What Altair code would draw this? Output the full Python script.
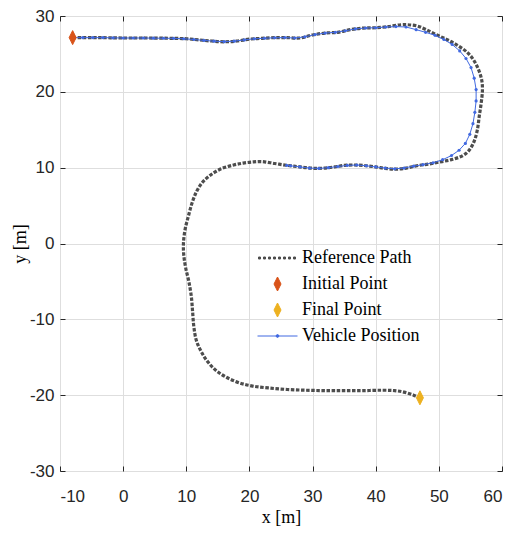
import altair as alt
import pandas as pd

# ---- data (metres) ----
ref_x = [-8.0, -4.0, 0.0, 4.0, 8.0, 10.0, 12.0, 14.0, 16.0, 18.0, 20.0, 22.0, 24.0, 26.0,
         28.0, 30.0, 32.0, 34.0, 36.0, 38.0, 40.0, 42.0, 44.0, 45.0, 46.5, 48.0, 49.7,
         51.5, 53.0, 54.5, 55.5, 56.3, 56.8, 56.9, 56.7, 56.4, 56.1, 55.6, 54.8, 53.8,
         52.2, 50.5, 48.5, 46.5, 44.5, 43.0, 41.5, 40.0, 38.0, 36.5, 35.0, 33.5, 32.0,
         30.5, 29.0, 27.5, 26.0, 24.0, 22.0, 20.5, 19.0, 17.5, 15.5, 13.8, 12.5, 11.6,
         10.9, 10.3, 9.8, 9.55, 9.6, 9.9, 10.4, 10.8, 11.0, 11.2, 11.6, 12.4, 13.4, 14.8,
         16.5, 18.5, 20.5, 23.0, 26.0, 29.0, 32.0, 35.0, 38.0, 41.0, 43.0, 44.5, 46.0, 47.0]
ref_y = [27.15, 27.15, 27.1, 27.1, 27.05, 27.0, 26.85, 26.7, 26.6, 26.7, 26.95, 27.05, 27.15,
         27.15, 27.1, 27.5, 27.75, 27.85, 28.2, 28.4, 28.45, 28.6, 28.85, 28.85, 28.7, 28.2,
         27.5, 26.8, 26.1, 25.2, 24.2, 22.9, 21.5, 20.2, 18.5, 16.8, 15.0, 13.5, 12.3, 11.6,
         11.1, 10.8, 10.5, 10.25, 9.9, 9.8, 9.9, 10.1, 10.3, 10.35, 10.3, 10.1, 9.95, 9.9,
         10.0, 10.15, 10.3, 10.55, 10.8, 10.75, 10.6, 10.35, 9.85, 9.0, 8.0, 6.8, 5.3, 3.5,
         1.8, 0.0, -1.5, -3.2, -5.0, -7.0, -9.0, -11.0, -12.8, -14.3, -15.6, -16.8, -17.7,
         -18.4, -18.8, -19.05, -19.25, -19.35, -19.4, -19.4, -19.4, -19.35, -19.4, -19.6,
         -20.0, -20.35]

veh_x = [-8.0, -6.4, -4.8, -3.2, -1.6, 0.0, 1.6, 3.2, 4.8, 6.4, 8.0, 9.6, 11.2, 12.8, 14.4,
         16.0, 17.6, 19.2, 20.8, 22.4, 24.0, 25.6, 27.2, 28.8, 30.4, 32.0, 33.6, 35.2, 36.8,
         38.4, 40.0, 41.6, 43.2, 44.8, 46.4, 47.9, 49.4, 50.8, 52.1, 53.3, 54.3, 55.1, 55.6,
         55.9, 55.9, 55.7, 55.4, 54.9, 54.2, 53.2, 52.0, 50.6, 49.1, 47.5, 46.0, 44.5, 43.0,
         41.5, 40.0, 38.5, 37.0, 35.5, 34.0, 32.5, 31.0, 29.5, 28.0, 26.5, 25.9]
veh_y = [27.15, 27.15, 27.15, 27.15, 27.12, 27.1, 27.1, 27.1, 27.08, 27.07, 27.05, 27.0,
         26.9, 26.78, 26.68, 26.62, 26.68, 26.85, 27.0, 27.07, 27.13, 27.15, 27.1, 27.25,
         27.55, 27.75, 27.85, 28.05, 28.3, 28.42, 28.45, 28.55, 28.6, 28.55, 28.2, 27.85,
         27.45, 26.9, 26.25, 25.4, 24.4, 23.2, 21.8, 20.3, 18.8, 17.3, 15.8, 14.4, 13.2,
         12.3, 11.6, 11.05, 10.65, 10.4, 10.2, 9.95, 9.85, 9.95, 10.1, 10.25, 10.35, 10.3,
         10.15, 10.0, 9.9, 9.95, 10.1, 10.25, 10.3]

marker_names = ["Initial Point", "Final Point"]
marker_x = [-8.0, 47.0]
marker_y = [27.15, -20.35]

series = ["Reference Path", "Initial Point", "Final Point", "Vehicle Position"]
series_colors = ["#4d4d4d", "#d95319", "#edb120", "#4169e1"]

x_ticks = [-10, 0, 10, 20, 30, 40, 50, 60]
y_ticks = [-30, -20, -10, 0, 10, 20, 30]

# ---- symbol paths (unit = 7 px at size 196) ----
R = 7.0


def u(v):
    return round(v / R, 4)


diamond = "M0,-1L0.5,0L0,1L-0.5,0Z"
dashed_sample = "".join(
    f"M{u(-19 + 5 * k)},{u(-1)}h{u(2)}v{u(2)}h{u(-2)}Z" for k in range(8)
)
dot_r = u(1.4)
line_dot_sample = (
    f"M{u(-20)},0L{u(20)},0"
    f"M{-dot_r},0A{dot_r},{dot_r},0,1,1,{dot_r},0A{dot_r},{dot_r},0,1,1,{-dot_r},0Z"
)
series_shapes = [dashed_sample, diamond, diamond, line_dot_sample]

ref_df = pd.DataFrame({"i": range(len(ref_x)), "x": ref_x, "y": ref_y})
veh_df = pd.DataFrame({"i": range(len(veh_x)), "x": veh_x, "y": veh_y})
pts_df = pd.DataFrame({"series": marker_names, "x": marker_x, "y": marker_y})

xs = alt.Scale(domain=[-10, 60], nice=False, zero=False)
ys = alt.Scale(domain=[-30, 30], nice=False, zero=False)

tick_style = dict(
    tickSize=5, offset=-5, domain=False, tickColor="#262626", tickWidth=1,
    labelFont="Liberation Sans", labelFontSize=17, labelColor="#262626",
    labelExpr="'' + datum.value", gridColor="#dedede", gridWidth=1,
)
title_style = dict(
    titleFont="Liberation Serif", titleFontSize=18, titleFontWeight="normal",
    titleColor="#000000", titleBaseline="alphabetic",
)

x_axis = alt.Axis(orient="bottom", values=x_ticks, grid=True, labelPadding=17,
                  title="x [m]", titleY=56, **tick_style, **title_style)
y_axis = alt.Axis(orient="left", values=y_ticks, grid=True, labelPadding=6,
                  title="y [m]", titleX=-39.5, titleY=227.5, titleAngle=-90,
                  titleAlign="center", **tick_style, **title_style)
x_axis_top = alt.Axis(orient="top", values=x_ticks, grid=False, labels=False,
                      title=None, tickSize=5, offset=-5, domain=False,
                      tickColor="#262626")
y_axis_right = alt.Axis(orient="right", values=y_ticks, grid=False, labels=False,
                        title=None, tickSize=5, offset=-5, domain=False,
                        tickColor="#262626")

ref_line = alt.Chart(ref_df).mark_line(
    color=series_colors[0], strokeWidth=3.2, strokeDash=[3.5, 1.6],
    strokeCap="butt", interpolate="catmull-rom",
).encode(
    x=alt.X("x:Q", scale=xs, axis=x_axis),
    y=alt.Y("y:Q", scale=ys, axis=y_axis),
    order="i:Q",
)

veh_line = alt.Chart(veh_df).mark_line(
    color=series_colors[3], strokeWidth=1,
).encode(
    x=alt.X("x:Q", scale=xs, axis=None),
    y=alt.Y("y:Q", scale=ys, axis=None),
    order="i:Q",
)

veh_dots = alt.Chart(veh_df).mark_point(
    filled=True, size=10, color=series_colors[3], opacity=1,
).encode(
    x=alt.X("x:Q", scale=xs, axis=None),
    y=alt.Y("y:Q", scale=ys, axis=None),
)

legend = alt.Legend(
    orient="none", legendX=197.5, legendY=233, title=None, padding=0,
    rowPadding=8, symbolOffset=11, labelOffset=15.5, labelFont="Liberation Serif",
    labelFontSize=18, labelColor="#000000", symbolSize=196, symbolStrokeWidth=1,
    labelLimit=0,
)

markers = alt.Chart(pts_df).mark_point(
    filled=True, size=196, opacity=1, strokeWidth=1,
).encode(
    x=alt.X("x:Q", scale=xs, axis=x_axis_top),
    y=alt.Y("y:Q", scale=ys, axis=y_axis_right),
    fill=alt.Fill("series:N", scale=alt.Scale(domain=series, range=series_colors),
                  legend=legend),
    stroke=alt.Stroke("series:N", scale=alt.Scale(domain=series, range=series_colors),
                      legend=legend),
    shape=alt.Shape("series:N", scale=alt.Scale(domain=series, range=series_shapes),
                    legend=legend),
)

chart = alt.layer(ref_line, veh_line, veh_dots, markers).resolve_axis(
    x="independent", y="independent"
).properties(
    width=442, height=455,
    autosize=alt.AutoSizeParams(type="none"),
    padding={"left": 60, "top": 16, "right": 12, "bottom": 67},
    background="white",
).configure_view(
    stroke="#262626", strokeWidth=1, fill="white",
)

chart.save("out.html", embed_options={"renderer": "svg", "actions": False})
